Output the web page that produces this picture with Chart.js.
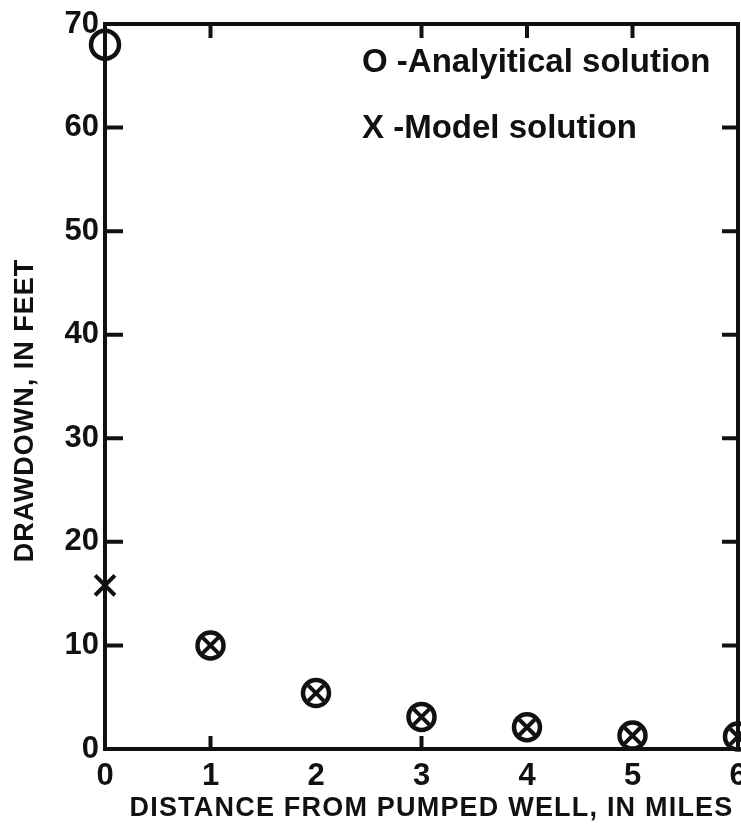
<!DOCTYPE html>
<html>
<head>
<meta charset="utf-8">
<script src="https://cdn.jsdelivr.net/npm/chart.js@4.4.1/dist/chart.umd.min.js"></script>
<style>
  html, body { margin: 0; padding: 0; background: #fff; }
  #wrap { width: 741px; height: 839px; }
</style>
</head>
<body>
<div id="wrap"><canvas id="drawdown"></canvas></div>
<script>
// Valores
const distanceMiles = [0, 1, 2, 3, 4, 5, 6];
const analyticalFt = [68, 10, 5.4, 3.1, 2.1, 1.3, 1.2];
const modelFt = [15.8, 10, 5.4, 3.1, 2.1, 1.3, 1.2];

// Etiquetas de ejes y marcas
const xTickLabels = ['0', '1', '2', '3', '4', '5', '6'];
const yTickLabels = ['0', '10', '20', '30', '40', '50', '60', '70'];
const topTickMiles = [1, 3, 4, 5];
const bottomTickMiles = [1, 3];
const leftTickFeet = [10, 20, 30, 40, 50, 60];
const rightTickFeet = [10, 20, 30, 40, 50, 60];

const xTitle = 'DISTANCE FROM PUMPED WELL, IN MILES';
const yTitle = 'DRAWDOWN, IN FEET';
const legendLines = ['O -Analyitical solution', 'X -Model solution'];

const FONT = "'Liberation Sans', Arial, sans-serif";
const INK = '#111';

const toPoints = (xs, ys) => xs.map((x, i) => ({ x, y: ys[i] }));

// Marcas hacia dentro, leyenda y titulos de ejes
const frameExtras = {
    id: 'frameExtras',
    afterDraw(chart) {
        const { ctx, chartArea: a, scales } = chart;
        const x = scales.x, y = scales.y;
        ctx.save();
        ctx.strokeStyle = INK;
        ctx.lineWidth = 4;
        ctx.lineCap = 'butt';
        ctx.beginPath();
        topTickMiles.forEach(v => {
            const px = x.getPixelForValue(v);
            ctx.moveTo(px, a.top); ctx.lineTo(px, a.top + 14);
        });
        bottomTickMiles.forEach(v => {
            const px = x.getPixelForValue(v);
            ctx.moveTo(px, a.bottom); ctx.lineTo(px, a.bottom - 13);
        });
        leftTickFeet.forEach(v => {
            const py = y.getPixelForValue(v);
            ctx.moveTo(a.left, py); ctx.lineTo(a.left + 18, py);
        });
        rightTickFeet.forEach(v => {
            const py = y.getPixelForValue(v);
            ctx.moveTo(a.right, py); ctx.lineTo(a.right - 16, py);
        });
        ctx.stroke();

        ctx.fillStyle = INK;
        ctx.textBaseline = 'middle';

        // leyenda
        ctx.textAlign = 'left';
        ctx.font = 'bold 33px ' + FONT;
        legendLines.forEach((t, i) => {
            ctx.fillText(t, a.left + 257, a.top + 39 + i * 66);
        });

        // titulo eje x
        ctx.textAlign = 'center';
        ctx.font = 'bold 27px ' + FONT;
        ctx.letterSpacing = '1.2px';
        ctx.fillText(xTitle, (a.left + a.right) / 2 + 10, a.bottom + 60);

        // titulo eje y
        ctx.translate(a.left - 79, (a.top + a.bottom) / 2 + 24);
        ctx.rotate(-Math.PI / 2);
        ctx.font = 'bold 27px ' + FONT;
        ctx.letterSpacing = '1px';
        ctx.fillText(yTitle, 0, 0);
        ctx.restore();
    }
};

const ctx = document.getElementById('drawdown').getContext('2d');
new Chart(ctx, {
    type: 'scatter',
    data: {
        datasets: [
            {
                label: 'Analyitical solution',
                data: toPoints(distanceMiles, analyticalFt),
                pointStyle: 'circle',
                pointRadius: [14, 13, 13, 13, 13, 13, 13],
                pointBorderWidth: 4.5,
                borderColor: INK,
                backgroundColor: 'rgba(0,0,0,0)',
                clip: false
            },
            {
                label: 'Model solution',
                data: toPoints(distanceMiles, modelFt),
                pointStyle: 'crossRot',
                pointRadius: [14, 11, 11, 11, 11, 11, 11],
                pointBorderWidth: 4,
                borderColor: INK,
                backgroundColor: INK,
                clip: false
            }
        ]
    },
    options: {
        responsive: true,
        maintainAspectRatio: false,
        animation: false,
        layout: { padding: 0, autoPadding: false },
        plugins: {
            legend: { display: false },
            tooltip: { enabled: false }
        },
        scales: {
            x: {
                type: 'linear',
                position: 'bottom',
                min: 0, max: 6,
                grid: { display: false, drawTicks: false },
                border: { display: true, color: INK, width: 4 },
                ticks: {
                    stepSize: 1,
                    padding: 9,
                    color: INK,
                    font: { family: FONT, size: 31, weight: 'bold' },
                    callback: (v) => xTickLabels[v]
                },
                afterFit: (s) => { s.height = 90; s.paddingLeft = 0; s.paddingRight = 0; }
            },
            y: {
                type: 'linear',
                position: 'left',
                min: 0, max: 70,
                grid: { display: false, drawTicks: false },
                border: { display: true, color: INK, width: 4 },
                ticks: {
                    stepSize: 10,
                    padding: 6,
                    color: INK,
                    font: { family: FONT, size: 31, weight: 'bold' },
                    callback: (v) => yTickLabels[v / 10]
                },
                afterFit: (s) => { s.width = 105; s.paddingTop = 0; s.paddingBottom = 0; }
            },
            x2: {
                type: 'linear',
                position: 'top',
                min: 0, max: 6,
                grid: { display: false, drawTicks: false },
                border: { display: true, color: INK, width: 4 },
                ticks: { display: false },
                afterFit: (s) => { s.height = 24; s.paddingLeft = 0; s.paddingRight = 0; }
            },
            y2: {
                type: 'linear',
                position: 'right',
                min: 0, max: 70,
                grid: { display: false, drawTicks: false },
                border: { display: true, color: INK, width: 4 },
                ticks: { display: false },
                afterFit: (s) => { s.width = 3; s.paddingTop = 0; s.paddingBottom = 0; }
            }
        }
    },
    plugins: [frameExtras]
});
</script>
</body>
</html>
